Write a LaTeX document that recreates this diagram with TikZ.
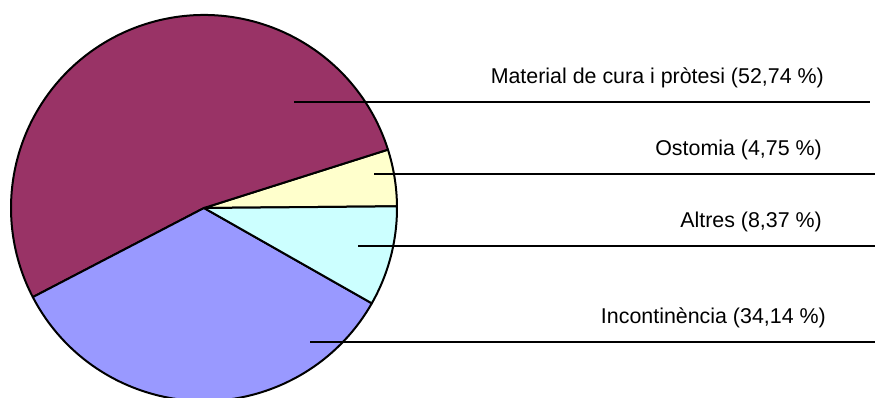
\documentclass[tikz,border=0pt]{standalone}
\usepackage{fontspec}
\setmainfont{Liberation Sans}
\usetikzlibrary{positioning}
\definecolor{cura}{HTML}{993366}
\definecolor{ostomia}{HTML}{FFFFCC}
\definecolor{altres}{HTML}{CCFFFF}
\definecolor{incont}{HTML}{9999FF}
\begin{document}
\begin{tikzpicture}[x=1pt,y=1pt,
  slice/.style={draw=black,line width=2pt,line join=round},
  leader/.style={draw=black,line width=1.5pt},
  lbl/.style={anchor=base east,inner sep=0pt,font=\fontsize{21.4}{25}\selectfont}]
\useasboundingbox (0,0) rectangle (875,398);

% pie
\coordinate (o) at (204,190);
\filldraw[slice,fill=ostomia] (o) -- ++(0.5:193) arc[start angle=0.5,end angle=17.6,radius=193] -- cycle;
\filldraw[slice,fill=cura] (o) -- ++(17.6:193) arc[start angle=17.6,end angle=207.5,radius=193] -- cycle;
\filldraw[slice,fill=incont] (o) -- ++(207.5:193) arc[start angle=207.5,end angle=330.4,radius=193] -- cycle;
\filldraw[slice,fill=altres] (o) -- ++(330.4:193) arc[start angle=330.4,end angle=360.5,radius=193] -- cycle;

% labels
\node[lbl] (cura) at (824,314) {Material de cura i pròtesi (52,74 \%)};
\node[lbl] (ostomia) at (822,242) {Ostomia (4,75 \%)};
\node[lbl] (altres) at (822,170) {Altres (8,37 \%)};
\node[lbl] (incont) at (826,74) {Incontinència (34,14 \%)};

% leader lines
\coordinate (cura-in) at (294,296);
\coordinate (cura-out) at (870,296);
\coordinate (ostomia-in) at (374,224);
\coordinate (ostomia-out) at (875,224);
\coordinate (altres-in) at (358,152);
\coordinate (altres-out) at (875,152);
\coordinate (incont-in) at (310,56);
\coordinate (incont-out) at (875,56);
\draw[leader] (cura-in) -- (cura-out);
\draw[leader] (ostomia-in) -- (ostomia-out);
\draw[leader] (altres-in) -- (altres-out);
\draw[leader] (incont-in) -- (incont-out);
\end{tikzpicture}
\end{document}
